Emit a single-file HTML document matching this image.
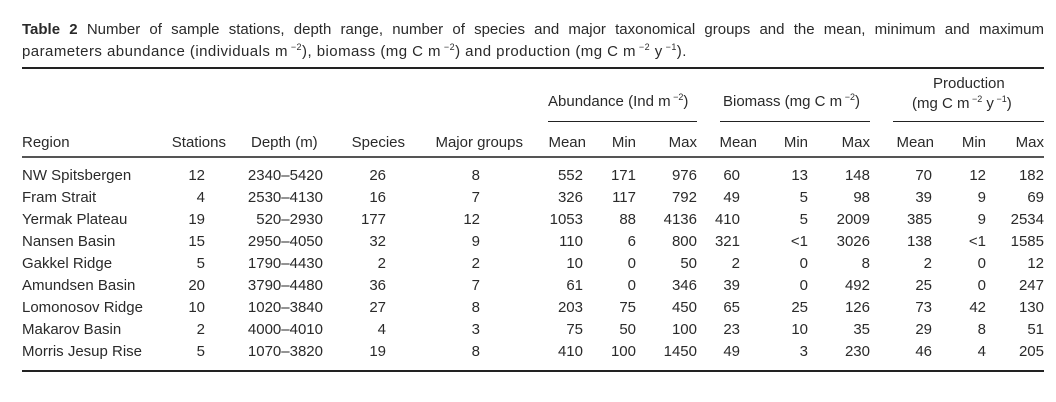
<!DOCTYPE html><html><head><meta charset="utf-8"><style>
body{margin:0;width:1056px;height:402px;background:#fff;position:relative;overflow:hidden;font-family:"Liberation Sans","DejaVu Sans",sans-serif;font-size:15px;color:#2a2a2a}
.t{position:absolute;white-space:nowrap;line-height:18px}
.r{position:absolute;white-space:nowrap;line-height:18px;text-align:right}
.h{position:absolute;background:#222}
sup{font-size:9px;line-height:0}
</style></head><body>
<div class="t" style="left:22px;top:21px;width:1022px;text-align:justify;text-align-last:justify;white-space:normal"><b>Table 2</b> Number of sample stations, depth range, number of species and major taxonomical groups and the mean, minimum and maximum</div>
<div class="t" style="left:22px;top:43px;letter-spacing:0.45px">parameters abundance (individuals m<sup> −2</sup>), biomass (mg C m<sup> −2</sup>) and production (mg C m<sup> −2</sup> y<sup> −1</sup>).</div>
<div class="h" style="left:22px;top:67px;width:1022px;height:2px"></div>
<div class="t" style="left:548px;top:93px">Abundance (Ind m<sup> −2</sup>)</div>
<div class="t" style="left:723px;top:93px">Biomass (mg C m<sup> −2</sup>)</div>
<div class="t" style="left:933px;top:75px">Production</div>
<div class="t" style="left:912px;top:95px">(mg C m<sup> −2</sup> y<sup> −1</sup>)</div>
<div class="h" style="left:548px;top:121px;width:149px;height:1px"></div>
<div class="h" style="left:720px;top:121px;width:150px;height:1px"></div>
<div class="h" style="left:893px;top:121px;width:151px;height:1px"></div>
<div class="h" style="left:22px;top:156px;width:1022px;height:2px;background:#555"></div>
<div class="h" style="left:22px;top:370px;width:1022px;height:2px"></div>
<div id="c"></div>
<script>
var rows=[["Region","Stations","Depth (m)","Species","Major groups","Mean","Min","Max","Mean","Min","Max","Mean","Min","Max"],
["NW Spitsbergen","12","2340–5420","26","8","552","171","976","60","13","148","70","12","182"],
["Fram Strait","4","2530–4130","16","7","326","117","792","49","5","98","39","9","69"],
["Yermak Plateau","19","520–2930","177","12","1053","88","4136","410","5","2009","385","9","2534"],
["Nansen Basin","15","2950–4050","32","9","110","6","800","321","<1","3026","138","<1","1585"],
["Gakkel Ridge","5","1790–4430","2","2","10","0","50","2","0","8","2","0","12"],
["Amundsen Basin","20","3790–4480","36","7","61","0","346","39","0","492","25","0","247"],
["Lomonosov Ridge","10","1020–3840","27","8","203","75","450","65","25","126","73","42","130"],
["Makarov Basin","2","4000–4010","4","3","75","50","100","23","10","35","29","8","51"],
["Morris Jesup Rise","5","1070–3820","19","8","410","100","1450","49","3","230","46","4","205"]];
var rx=[0,205,323,386,480,583,636,697,740,808,870,932,986,1044];
var hx=[0,226,323,405,523,586,636,697,757,808,870,934,986,1044];
var h='';
rows.forEach(function(r,i){var y=i==0?134:167+(i-1)*22;
r.forEach(function(v,j){v=v.replace('<','&lt;');
if(j==0)h+='<div class="t" style="left:22px;top:'+y+'px">'+v+'</div>';
else{var x=i==0?hx[j]:rx[j];if(i==0&&j==2)h+='<div class="t" style="left:251px;top:'+y+'px">'+v+'</div>';else h+='<div class="r" style="right:'+(1056-x)+'px;top:'+y+'px">'+v+'</div>';}});});
document.getElementById('c').innerHTML=h;
</script>
</body></html>
